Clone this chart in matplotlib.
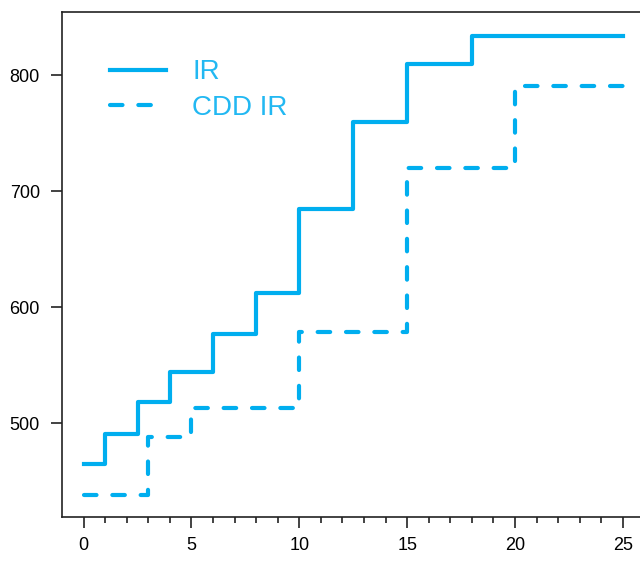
import matplotlib.pyplot as plt
from matplotlib.ticker import MultipleLocator, FixedLocator

# step data (x where the level starts, level value); last point repeats to close at x=25
ir_x = [0, 1, 2.5, 4, 6, 8, 10, 12.5, 15, 18, 25]
ir_y = [465, 491, 518, 544, 577, 612, 685, 760, 810, 834, 834]

cdd_x = [0, 3, 5, 10, 15, 20, 25]
cdd_y = [438, 488, 513, 579, 720, 791, 791]

blue = '#00AEEF'

plt.rcParams['font.family'] = ['Liberation Sans', 'DejaVu Sans']

fig = plt.figure(figsize=(6.4, 5.63), dpi=100)
ax = fig.add_axes([0.0969, 0.0812, 0.91, 0.898])

ax.step(ir_x, ir_y, where='post', color=blue, linewidth=3, label='IR')
ax.step(cdd_x, cdd_y, where='post', color=blue, linewidth=3, linestyle=(0, (3, 3.8)),
        dash_capstyle='round', label='CDD IR')

ax.set_xlim(-1, 26)
ax.set_ylim(419, 855)
ax.xaxis.set_major_locator(MultipleLocator(5))
ax.xaxis.set_minor_locator(FixedLocator(range(0, 27)))
ax.yaxis.set_major_locator(MultipleLocator(100))

ax.tick_params(axis='both', which='major', length=8, width=1.2, labelsize=13, color='#222222')
ax.tick_params(axis='y', which='major', pad=8)
ax.tick_params(axis='x', which='major', pad=6)
ax.tick_params(axis='x', which='minor', length=4.5, width=1.2, color='#222222')
for s in ax.spines.values():
    s.set_linewidth(1.2)
    s.set_color('#222222')

leg = ax.legend(loc='upper left', bbox_to_anchor=(0.04, 0.955), frameon=False, fontsize=20,
                handlelength=2.0, handletextpad=0.95, labelspacing=0.35, labelcolor='#22B8F2')

fig.savefig('out.png', dpi=100)
